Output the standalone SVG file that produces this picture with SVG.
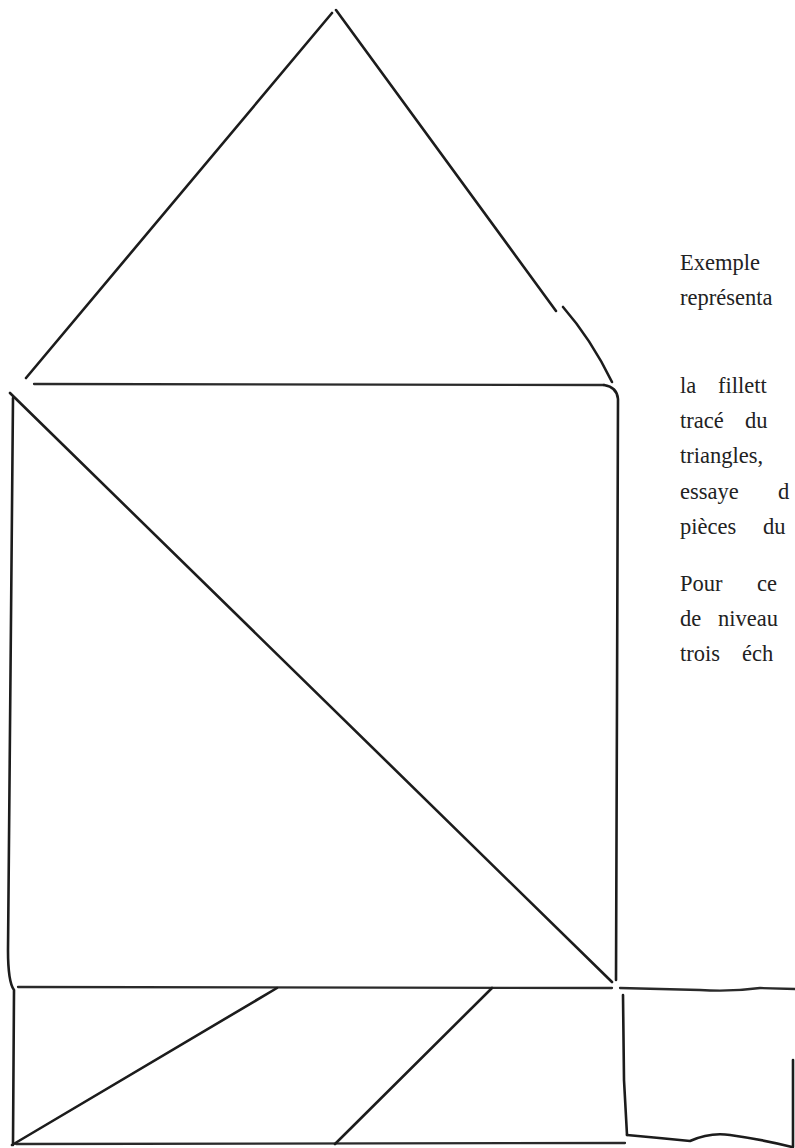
<svg xmlns="http://www.w3.org/2000/svg" width="795" height="1148" viewBox="0 0 795 1148">
<style>
.ln{fill:none;stroke:#1c1c1c;stroke-width:2.6;stroke-linecap:round;stroke-linejoin:round}
.lt{fill:none;stroke:#2a2a2a;stroke-width:2.3;stroke-linecap:round}
.tx{font-family:"Liberation Serif",serif;font-size:22.5px;fill:#222}
</style>
<rect width="795" height="1148" fill="#fff"/>
<g id="roof">
<path class="ln" d="M332,13 L26,378"/>
<path class="ln" d="M336,10 L556,311"/>
<path class="ln" d="M563,307 Q591,339 612,382"/>
</g>
<g id="square">
<path class="lt" d="M34,384 L604,385"/>
<path class="ln" d="M604,385 Q617,387 618,399 L617,700 L616,980"/>
<path class="ln" d="M13,398 C11,600 9,800 8,950 Q8,982 14,990 L13,1145"/>
<path class="lt" d="M18,987 L612,988"/>
<path class="ln" d="M10,393 L612,982"/>
</g>
<g id="strip">
<path class="lt" d="M620,988 L700,990 Q730,992 760,988 L795,989"/>
<path class="ln" d="M623,995 L624,1080 L627,1135"/>
<path class="ln" d="M627,1135 Q660,1138 690,1141 Q710,1132 730,1135 Q765,1140 792,1147"/>
<path class="ln" d="M793,1060 L793,1147"/>
<path class="lt" d="M16,1144 L625,1143"/>
<path class="ln" d="M12,1145 L277,988"/>
<path class="ln" d="M335,1144 L492,988"/>
</g>
<g id="text" class="tx">
<text x="680" y="270">Exemple</text>
<text x="680" y="305">représenta</text>
<text x="680" y="393">la</text>
<text x="718" y="393">fillett</text>
<text x="680" y="428">tracé</text>
<text x="745" y="428">du</text>
<text x="680" y="463">triangles,</text>
<text x="680" y="499">essaye</text>
<text x="778" y="499">d</text>
<text x="680" y="534">pièces</text>
<text x="763" y="534">du</text>
<text x="680" y="591">Pour</text>
<text x="757" y="591">ce</text>
<text x="680" y="626">de</text>
<text x="718" y="626">niveau</text>
<text x="680" y="661">trois</text>
<text x="742" y="661">éch</text>
</g>
</svg>
